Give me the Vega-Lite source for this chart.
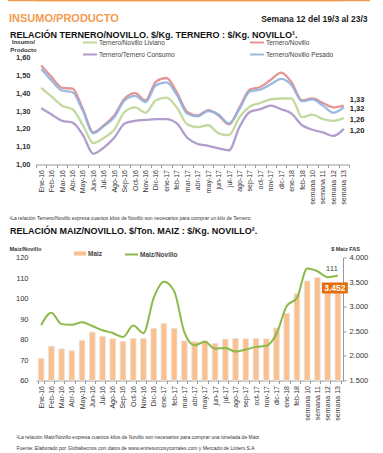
{
  "$schema": "https://vega.github.io/schema/vega-lite/v6.json",
  "padding": {"left": 9, "top": 0, "right": 0, "bottom": 0},
  "config": {
    "locale": {"number": {"decimal": ",", "thousands": ".", "grouping": [3], "currency": ["$", ""]}},
    "font": "Liberation Sans",
    "view": {"stroke": null},
    "axis": {"grid": false}
  },
  "columns": 1,
  "spacing": 2.5,
  "resolve": {"scale": {"color": "independent", "stroke": "independent", "fill": "independent", "x": "independent", "y": "independent"}},
  "concat": [
    {
      "width": 334,
      "height": 28,
      "data": {"values": [{"a": 0}]},
      "layer": [
        {
          "mark": {"type": "point", "size": 0, "opacity": 0},
          "encoding": {
            "x": {"field": "a", "type": "quantitative", "axis": {"orient": "bottom", "translate": -28, "domainColor": "#f39b4f", "domainWidth": 2.5, "labels": false, "ticks": false, "title": null}},
            "y": {"field": "a", "type": "quantitative", "axis": {"orient": "right", "title": "Semana 12 del 19/3 al 23/3", "labels": false, "ticks": false, "domain": false, "titleAngle": 0, "titleX": -3, "titleY": 21, "titleAlign": "right", "titleBaseline": "alphabetic", "titleFontSize": 8.5, "titleFontWeight": "bold", "titleColor": "#1a1a1a"}}
          }
        },
        {
          "mark": {"type": "point", "size": 0, "opacity": 0},
          "encoding": {
            "x": {"field": "a", "type": "quantitative", "axis": {"orient": "top", "translate": 0, "domainColor": "#f39b4f", "domainWidth": 2.5, "labels": false, "ticks": false, "title": "INSUMO/PRODUCTO", "titleX": -27, "titleY": 22.25, "titleAlign": "left", "titleAnchor": null, "titleBaseline": "alphabetic", "titleFontSize": 11, "titleFontWeight": "bold", "titleColor": "#f39b4f"}}
          }
        }
      ],
      "resolve": {"scale": {"x": "independent"}, "axis": {"x": "independent"}}
    },
    {
      "columns": 1,
      "spacing": 6,
      "resolve": {"scale": {"color": "independent", "stroke": "independent", "fill": "independent", "x": "independent", "y": "independent"}},
      "concat": [
        {
          "width": 313,
          "height": 107,
          "title": {"text": "RELACIÓN TERNERO/NOVILLO. $/Kg. TERNERO : $/Kg. NOVILLO¹.", "anchor": "start", "frame": "bounds", "fontSize": 9, "fontWeight": "bold", "color": "#111111", "offset": -5, "dx": 1},
          "data": {"values": [
            {"cat": "Ene-16", "Ternero/Novillo Liviano": 1.43, "Ternero/Novillo": 1.555, "Ternero/Ternero Consumo": 1.315, "Ternero/Novillo Pesado": 1.535},
            {"cat": "Feb-16", "Ternero/Novillo Liviano": 1.38, "Ternero/Novillo": 1.49, "Ternero/Ternero Consumo": 1.28, "Ternero/Novillo Pesado": 1.47},
            {"cat": "Mar-16", "Ternero/Novillo Liviano": 1.33, "Ternero/Novillo": 1.43, "Ternero/Ternero Consumo": 1.245, "Ternero/Novillo Pesado": 1.415},
            {"cat": "Abr-16", "Ternero/Novillo Liviano": 1.31, "Ternero/Novillo": 1.425, "Ternero/Ternero Consumo": 1.235, "Ternero/Novillo Pesado": 1.405},
            {"cat": "May-16", "Ternero/Novillo Liviano": 1.22, "Ternero/Novillo": 1.31, "Ternero/Ternero Consumo": 1.165, "Ternero/Novillo Pesado": 1.3},
            {"cat": "Jun-16", "Ternero/Novillo Liviano": 1.12, "Ternero/Novillo": 1.18, "Ternero/Ternero Consumo": 1.06, "Ternero/Novillo Pesado": 1.175},
            {"cat": "Jul-16", "Ternero/Novillo Liviano": 1.15, "Ternero/Novillo": 1.22, "Ternero/Ternero Consumo": 1.095, "Ternero/Novillo Pesado": 1.215},
            {"cat": "Ago-16", "Ternero/Novillo Liviano": 1.195, "Ternero/Novillo": 1.275, "Ternero/Ternero Consumo": 1.15, "Ternero/Novillo Pesado": 1.265},
            {"cat": "Sep-16", "Ternero/Novillo Liviano": 1.295, "Ternero/Novillo": 1.37, "Ternero/Ternero Consumo": 1.23, "Ternero/Novillo Pesado": 1.36},
            {"cat": "Oct-16", "Ternero/Novillo Liviano": 1.32, "Ternero/Novillo": 1.4, "Ternero/Ternero Consumo": 1.245, "Ternero/Novillo Pesado": 1.385},
            {"cat": "Nov-16", "Ternero/Novillo Liviano": 1.29, "Ternero/Novillo": 1.36, "Ternero/Ternero Consumo": 1.25, "Ternero/Novillo Pesado": 1.35},
            {"cat": "Dic-16", "Ternero/Novillo Liviano": 1.36, "Ternero/Novillo": 1.465, "Ternero/Ternero Consumo": 1.255, "Ternero/Novillo Pesado": 1.445},
            {"cat": "ene-17", "Ternero/Novillo Liviano": 1.375, "Ternero/Novillo": 1.485, "Ternero/Ternero Consumo": 1.255, "Ternero/Novillo Pesado": 1.46},
            {"cat": "feb-17", "Ternero/Novillo Liviano": 1.32, "Ternero/Novillo": 1.405, "Ternero/Ternero Consumo": 1.23, "Ternero/Novillo Pesado": 1.39},
            {"cat": "mar-17", "Ternero/Novillo Liviano": 1.225, "Ternero/Novillo": 1.295, "Ternero/Ternero Consumo": 1.15, "Ternero/Novillo Pesado": 1.285},
            {"cat": "abr-17", "Ternero/Novillo Liviano": 1.21, "Ternero/Novillo": 1.275, "Ternero/Ternero Consumo": 1.115, "Ternero/Novillo Pesado": 1.27},
            {"cat": "may-17", "Ternero/Novillo Liviano": 1.22, "Ternero/Novillo": 1.305, "Ternero/Ternero Consumo": 1.105, "Ternero/Novillo Pesado": 1.3},
            {"cat": "jun-17", "Ternero/Novillo Liviano": 1.175, "Ternero/Novillo": 1.275, "Ternero/Ternero Consumo": 1.09, "Ternero/Novillo Pesado": 1.28},
            {"cat": "jul-17", "Ternero/Novillo Liviano": 1.165, "Ternero/Novillo": 1.225, "Ternero/Ternero Consumo": 1.08, "Ternero/Novillo Pesado": 1.23},
            {"cat": "ago-17", "Ternero/Novillo Liviano": 1.265, "Ternero/Novillo": 1.32, "Ternero/Ternero Consumo": 1.21, "Ternero/Novillo Pesado": 1.31},
            {"cat": "sep-17", "Ternero/Novillo Liviano": 1.325, "Ternero/Novillo": 1.42, "Ternero/Ternero Consumo": 1.295, "Ternero/Novillo Pesado": 1.41},
            {"cat": "oct-17", "Ternero/Novillo Liviano": 1.345, "Ternero/Novillo": 1.435, "Ternero/Ternero Consumo": 1.31, "Ternero/Novillo Pesado": 1.42},
            {"cat": "nov-17", "Ternero/Novillo Liviano": 1.365, "Ternero/Novillo": 1.475, "Ternero/Ternero Consumo": 1.33, "Ternero/Novillo Pesado": 1.45},
            {"cat": "dic-17", "Ternero/Novillo Liviano": 1.37, "Ternero/Novillo": 1.515, "Ternero/Ternero Consumo": 1.31, "Ternero/Novillo Pesado": 1.48},
            {"cat": "ene-18", "Ternero/Novillo Liviano": 1.37, "Ternero/Novillo": 1.46, "Ternero/Ternero Consumo": 1.285, "Ternero/Novillo Pesado": 1.445},
            {"cat": "feb-18", "Ternero/Novillo Liviano": 1.265, "Ternero/Novillo": 1.36, "Ternero/Ternero Consumo": 1.22, "Ternero/Novillo Pesado": 1.355},
            {"cat": "semana 10", "Ternero/Novillo Liviano": 1.28, "Ternero/Novillo": 1.37, "Ternero/Ternero Consumo": 1.195, "Ternero/Novillo Pesado": 1.365},
            {"cat": "semana 11", "Ternero/Novillo Liviano": 1.255, "Ternero/Novillo": 1.345, "Ternero/Ternero Consumo": 1.18, "Ternero/Novillo Pesado": 1.33},
            {"cat": "semana 12", "Ternero/Novillo Liviano": 1.245, "Ternero/Novillo": 1.32, "Ternero/Ternero Consumo": 1.16, "Ternero/Novillo Pesado": 1.29},
            {"cat": "semana 13", "Ternero/Novillo Liviano": 1.26, "Ternero/Novillo": 1.33, "Ternero/Ternero Consumo": 1.2, "Ternero/Novillo Pesado": 1.32}
          ]},
          "transform": [{"fold": ["Ternero/Novillo Liviano", "Ternero/Novillo", "Ternero/Ternero Consumo", "Ternero/Novillo Pesado"], "as": ["serie", "v"]}],
          "encoding": {
            "x": {"field": "cat", "type": "nominal", "sort": null, "bandPosition": 0.5,
              "scale": {"type": "band", "paddingInner": 0, "paddingOuter": 0},
              "axis": {"title": "¹La relación Ternero/Novillo expresa cuantos kilos de Novillo son necesarios para comprar un kilo de Ternero.", "labelAngle": -90, "labelFontSize": 7, "labelColor": "#333333", "labelPadding": 2, "tickBand": "extent", "tickColor": "#999999", "tickSize": 3, "domainColor": "#999999", "titleX": -27, "titleY": 52.5, "titleAlign": "left", "titleAnchor": null, "titleBaseline": "middle", "titleFontSize": 5, "titleFontWeight": "normal", "titleColor": "#333333"}},
            "y": {"field": "v", "type": "quantitative",
              "scale": {"domain": [1, 1.6], "nice": false, "zero": false},
              "axis": {"title": ["Insumo/", "Producto"], "titleAngle": 0, "titleX": -13, "titleY": -19, "titleAlign": "center", "titleAnchor": null, "titleBaseline": "top", "titleFontSize": 6, "titleFontWeight": "bold", "titleColor": "#333333", "titleLineHeight": 7.5, "values": [1, 1.1, 1.2, 1.3, 1.4, 1.5, 1.6], "format": ".2f", "labelOverlap": false, "domain": false, "ticks": false, "labelFontSize": 7.5, "labelFontWeight": "bold", "labelColor": "#333333", "labelPadding": 6}}
          },
          "layer": [
            {
              "mark": {"type": "line", "interpolate": "monotone", "strokeWidth": 2.3, "opacity": 0.9},
              "encoding": {
                "color": {"field": "serie", "type": "nominal",
                  "scale": {"domain": ["Ternero/Novillo Liviano", "Ternero/Novillo", "Ternero/Ternero Consumo", "Ternero/Novillo Pesado"], "range": ["#bcd595", "#e08a8a", "#a991c9", "#8fb2e0"]},
                  "legend": {"orient": "none", "legendX": 46, "legendY": -23, "columns": 2, "direction": "horizontal", "title": null, "symbolType": "stroke", "symbolSize": 196, "symbolStrokeWidth": 2, "labelFontSize": 6.5, "labelColor": "#444444", "labelOffset": 1, "rowPadding": -7, "columnPadding": 71}}
              }
            },
            {
              "transform": [{"filter": "datum.cat == 'semana 13' && datum.serie == 'Ternero/Novillo'"}],
              "mark": {"type": "text", "align": "left", "dx": 6, "dy": -6, "fontSize": 7.5, "fontWeight": "bold", "color": "#222222"},
              "encoding": {"text": {"field": "v", "type": "quantitative", "format": ".2f"}}
            },
            {
              "transform": [{"filter": "datum.cat == 'semana 13' && datum.serie != 'Ternero/Novillo'"}],
              "mark": {"type": "text", "align": "left", "dx": 6, "dy": 2, "fontSize": 7.5, "fontWeight": "bold", "color": "#222222"},
              "encoding": {"text": {"field": "v", "type": "quantitative", "format": ".2f"}}
            }
          ]
        },
        {
          "width": 307,
          "height": 123,
          "title": {"text": "RELACIÓN MAIZ/NOVILLO. $/Ton. MAIZ : $/Kg. NOVILLO².", "anchor": "start", "frame": "bounds", "fontSize": 9, "fontWeight": "bold", "color": "#111111", "offset": 11, "dx": 1},
          "data": {"values": [
            {"cat": "Ene-16", "maiz": 1946, "ratio": 87.0},
            {"cat": "Feb-16", "maiz": 2196, "ratio": 93.0},
            {"cat": "Mar-16", "maiz": 2142, "ratio": 87.5},
            {"cat": "Abr-16", "maiz": 2104, "ratio": 87.2},
            {"cat": "May-16", "maiz": 2313, "ratio": 88.4},
            {"cat": "Jun-16", "maiz": 2484, "ratio": 86.6},
            {"cat": "Jul-16", "maiz": 2396, "ratio": 84.5},
            {"cat": "Ago-16", "maiz": 2346, "ratio": 83.2},
            {"cat": "Sep-16", "maiz": 2292, "ratio": 81.2},
            {"cat": "Oct-16", "maiz": 2354, "ratio": 86.8},
            {"cat": "Nov-16", "maiz": 2354, "ratio": 83.1},
            {"cat": "Dic-16", "maiz": 2558, "ratio": 100.3},
            {"cat": "ene-17", "maiz": 2658, "ratio": 108.2},
            {"cat": "feb-17", "maiz": 2558, "ratio": 103.6},
            {"cat": "mar-17", "maiz": 2305, "ratio": 83.5},
            {"cat": "abr-17", "maiz": 2287, "ratio": 77.2},
            {"cat": "may-17", "maiz": 2306, "ratio": 78.9},
            {"cat": "jun-17", "maiz": 2251, "ratio": 75.5},
            {"cat": "jul-17", "maiz": 2340, "ratio": 75.9},
            {"cat": "ago-17", "maiz": 2354, "ratio": 74.1},
            {"cat": "sep-17", "maiz": 2347, "ratio": 75.1},
            {"cat": "oct-17", "maiz": 2354, "ratio": 76.4},
            {"cat": "nov-17", "maiz": 2347, "ratio": 76.9},
            {"cat": "dic-17", "maiz": 2566, "ratio": 82.8},
            {"cat": "ene-18", "maiz": 2866, "ratio": 96.3},
            {"cat": "feb-18", "maiz": 3262, "ratio": 100.3},
            {"cat": "semana 10", "maiz": 3522, "ratio": 114.6},
            {"cat": "semana 11", "maiz": 3590, "ratio": 113.3},
            {"cat": "semana 12", "maiz": 3470, "ratio": 110.4},
            {"cat": "semana 13", "maiz": 3452, "ratio": 111.2}
          ]},
          "encoding": {
            "x": {"field": "cat", "type": "nominal", "sort": null, "bandPosition": 0.5,
              "scale": {"type": "band", "paddingInner": 0.45, "paddingOuter": 0.225},
              "axis": {"title": ["²La relación Maiz/Novillo expresa cuantos kilos de Novillo son necesarios para comprar una tonelada de Maiz.", "Fuente: Elaborado por Globaltecnos con datos de www.entresurcosycorrales.com y Mercado de Liniers S.A"], "labelAngle": -90, "labelFontSize": 7, "labelColor": "#333333", "labelPadding": 2, "tickBand": "extent", "tickColor": "#999999", "tickSize": 3, "domainColor": "#999999", "titleX": -20, "titleY": 56, "titleAlign": "left", "titleAnchor": null, "titleBaseline": "middle", "titleFontSize": 5, "titleFontWeight": "normal", "titleColor": "#333333", "titleLineHeight": 11}}
          },
          "layer": [
            {
              "encoding": {
                "y": {"field": "maiz", "type": "quantitative", "scale": {"domain": [1500, 4000], "nice": false, "zero": false},
                  "axis": {"orient": "right", "title": "$ Maiz FAS", "titleAngle": 0, "titleX": 2, "titleY": -9, "titleAlign": "center", "titleAnchor": null, "titleBaseline": "middle", "titleFontSize": 5.5, "titleFontWeight": "bold", "titleColor": "#333333", "values": [1500, 2000, 2500, 3000, 3500, 4000], "format": ",.0f", "labelOverlap": false, "domainColor": "#999999", "tickColor": "#999999", "tickSize": 3, "labelFontSize": 7.5, "labelColor": "#333333", "labelPadding": 3}}
              },
              "layer": [
                {
                  "mark": {"type": "bar", "stroke": "#e8e2dc", "strokeWidth": 0.8},
                  "encoding": {
                    "y2": {"datum": 1500},
                    "fill": {"datum": "Maiz", "scale": {"range": ["#fac090"]},
                      "legend": {"orient": "none", "legendX": 38, "legendY": -10, "title": null, "symbolType": "M-1,-0.35H1V0.35H-1Z", "symbolSize": 144, "symbolStrokeWidth": 0, "labelFontSize": 6.5, "labelFontWeight": "bold", "labelColor": "#444444", "labelOffset": 2}}
                  }
                },
                {
                  "transform": [{"filter": "datum.cat == 'semana 13'"}],
                  "mark": {"type": "point", "shape": "M-1.3,-0.55H1.3V0.55H-1.3Z", "size": 400, "filled": true, "fill": "#e46c0a", "opacity": 1, "strokeWidth": 0, "xOffset": -3, "yOffset": 3.5}
                },
                {
                  "transform": [{"filter": "datum.cat == 'semana 13'"}],
                  "mark": {"type": "text", "align": "center", "baseline": "middle", "dx": -3, "dy": 4, "fontSize": 8.5, "fontWeight": "bold", "color": "#ffffff"},
                  "encoding": {"text": {"field": "maiz", "type": "quantitative", "format": ",.0f"}}
                }
              ]
            },
            {
              "encoding": {
                "y": {"field": "ratio", "type": "quantitative", "scale": {"domain": [60, 120], "nice": false, "zero": false},
                  "axis": {"orient": "left", "title": "Maiz/Novillo", "titleAngle": 0, "titleX": -27, "titleY": -9, "titleAlign": "left", "titleAnchor": null, "titleBaseline": "middle", "titleFontSize": 5.5, "titleFontWeight": "bold", "titleColor": "#333333", "values": [60, 70, 80, 90, 100, 110, 120], "labelOverlap": false, "domain": false, "ticks": false, "labelFontSize": 7.5, "labelColor": "#333333", "labelPadding": 8}}
              },
              "layer": [
                {
                  "mark": {"type": "line", "interpolate": "monotone", "strokeWidth": 2},
                  "encoding": {
                    "stroke": {"datum": "Maiz/Novillo", "scale": {"range": ["#8cb947"]},
                      "legend": {"orient": "none", "legendX": 88, "legendY": -10.5, "title": null, "symbolType": "stroke", "symbolSize": 169, "symbolStrokeWidth": 2, "labelFontSize": 6.5, "labelFontWeight": "bold", "labelColor": "#444444", "labelOffset": 1}}
                  }
                },
                {
                  "transform": [{"filter": "datum.cat == 'semana 13'"}],
                  "mark": {"type": "text", "align": "center", "baseline": "middle", "dx": -6, "dy": -7, "fontSize": 8, "color": "#4d4d4d"},
                  "encoding": {"text": {"field": "ratio", "type": "quantitative", "format": ".0f"}}
                }
              ]
            }
          ],
          "resolve": {"scale": {"y": "independent"}}
        }
      ]
    }
  ]
}
